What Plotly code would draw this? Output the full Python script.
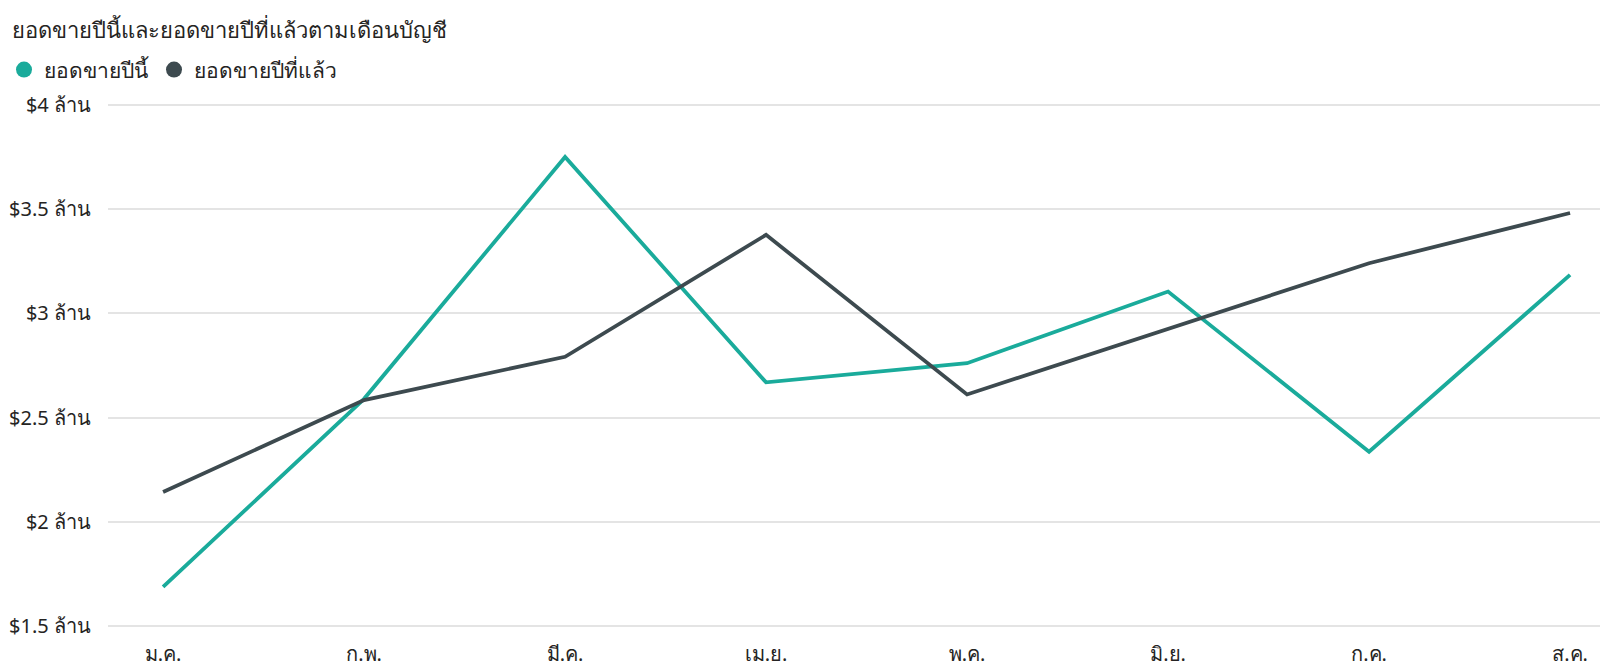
import plotly.graph_objects as go

months = ["ม.ค.", "ก.พ.", "มี.ค.", "เม.ย.", "พ.ค.", "มิ.ย.", "ก.ค.", "ส.ค."]
this_year = [1.687, 2.59, 3.751, 2.669, 2.761, 3.105, 2.336, 3.185]
last_year = [2.143, 2.584, 2.792, 3.377, 2.611, 2.925, 3.241, 3.482]

TEAL = "#1AAB9B"
DARK = "#3D4A4F"
FONT = "Segoe UI, Noto Sans, Open Sans, sans-serif"

y_ticks = [1.5, 2, 2.5, 3, 3.5, 4]
y_labels = [f"${v:g} ล้าน" for v in y_ticks]

fig = go.Figure()
fig.add_trace(go.Scatter(x=months, y=this_year, mode="lines", name="ยอดขายปีนี้",
                         line=dict(color=TEAL, width=3.8), showlegend=False))
fig.add_trace(go.Scatter(x=months, y=last_year, mode="lines", name="ยอดขายปีที่แล้ว",
                         line=dict(color=DARK, width=3.8), showlegend=False))
# legend entries drawn as circles, like the original
for name, color in [("ยอดขายปีนี้", TEAL), ("ยอดขายปีที่แล้ว", DARK)]:
    fig.add_trace(go.Scatter(x=[None], y=[None], mode="markers", name=name,
                             marker=dict(color=color, size=18, symbol="circle")))

fig.update_layout(
    width=1600, height=669,
    margin=dict(l=108, r=0, t=103, b=41),
    paper_bgcolor="white", plot_bgcolor="white",
    font=dict(family=FONT, size=20, color="#252423"),
    title=dict(text="ยอดขายปีนี้และยอดขายปีที่แล้วตามเดือนบัญชี",
               x=0.0075, xanchor="left", y=0.955, yanchor="middle",
               font=dict(size=22, color="#252423")),
    legend=dict(orientation="h", x=-0.0697, xanchor="left", y=1.063, yanchor="middle",
                font=dict(size=21, color="#252423"), itemwidth=30,
                bgcolor="rgba(0,0,0,0)"),
    showlegend=True,
)
fig.update_xaxes(type="category", range=[-0.274, 7.149], showgrid=False, zeroline=False,
                 showline=False, ticks="", ticklabelstandoff=12, automargin=False,
                 tickfont=dict(size=20, color="#252423"))
fig.update_yaxes(range=[1.49, 4.01], tickvals=y_ticks, ticktext=y_labels, showgrid=True,
                 gridcolor="#E4E4E4", gridwidth=1.5, zeroline=False, showline=False,
                 ticks="", ticklabelstandoff=16, automargin=False,
                 tickfont=dict(size=20, color="#252423"))

# drop the browser's default 8px body margin so the figure sits at the page corner
fig.write_html("out.html", config={"displayModeBar": False},
               post_script="document.body.style.margin='0';")
